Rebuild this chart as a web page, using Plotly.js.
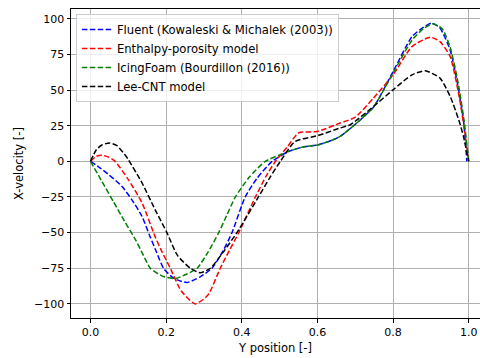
<!DOCTYPE html>
<html>
<head>
<meta charset="utf-8">
<script src="https://cdn.plot.ly/plotly-3.0.1.min.js"></script>
<style>html,body{margin:0;padding:0;background:#fff;}#chart{width:480px;height:358px;}</style>
</head>
<body>
<div id="chart"></div>
<script>
// Fluent (Kowaleski & Michalek (2003))
const fluentX = [0, 0.025, 0.048, 0.083, 0.109, 0.136, 0.157, 0.175, 0.193, 0.22, 0.255, 0.29, 0.321, 0.35, 0.374, 0.409, 0.44, 0.48, 0.524, 0.56, 0.6, 0.64, 0.66, 0.7, 0.748, 0.8, 0.85, 0.88, 0.902, 0.924, 0.951, 0.97, 0.986, 0.995];
const fluentY = [0, -4.5, -9.3, -17.5, -26.8, -38.5, -52.5, -64, -75, -82, -85, -81, -75, -63, -50, -25, -12, 0, 7, 10, 11.5, 15, 17.5, 26, 38, 63, 87.5, 94, 97, 93.5, 78, 55, 29, 0];
// Enthalpy-porosity model
const enthX = [0, 0.015, 0.03, 0.048, 0.065, 0.1, 0.136, 0.171, 0.19, 0.211, 0.24, 0.277, 0.31, 0.343, 0.368, 0.392, 0.436, 0.465, 0.489, 0.52, 0.55, 0.6, 0.66, 0.7, 0.748, 0.8, 0.85, 0.898, 0.924, 0.951, 0.975, 0.99, 1.0];
const enthY = [0, 3.5, 4.3, 3, 0, -12.8, -29, -53, -64, -75, -91, -100, -94, -75, -62, -50, -25, -10, 0, 10, 19.9, 21, 26.9, 31, 44.4, 60.7, 80.5, 87.1, 84, 73.5, 45, 20, 0];
// IcingFoam (Bourdillon (2016))
const icingX = [0, 0.03, 0.061, 0.09, 0.12, 0.14, 0.158, 0.19, 0.224, 0.255, 0.282, 0.31, 0.339, 0.36, 0.383, 0.42, 0.462, 0.502, 0.524, 0.56, 0.6, 0.64, 0.66, 0.7, 0.748, 0.8, 0.85, 0.88, 0.905, 0.93, 0.951, 0.972, 0.988, 1.0];
const icingY = [0, -14, -28.5, -42, -55.5, -66, -75, -80.5, -82.2, -79, -75, -64, -50, -38, -25, -11, 0, 4.7, 7, 10, 11.5, 15, 17.5, 26, 38, 62, 85, 93, 96.5, 93, 80, 55, 28, 0];
// Lee-CNT model
const leeX = [0, 0.015, 0.03, 0.051, 0.07, 0.09, 0.1, 0.136, 0.171, 0.202, 0.23, 0.264, 0.29, 0.317, 0.35, 0.387, 0.444, 0.475, 0.502, 0.541, 0.6, 0.66, 0.687, 0.748, 0.8, 0.85, 0.885, 0.924, 0.951, 0.975, 0.986, 1.0];
const leeY = [0, 8, 11.5, 12.9, 11, 5, 1.2, -15, -34, -50, -66, -75, -78.2, -75, -64, -50, -25, -11, 0, 14, 18, 23.4, 25.7, 38.5, 50.2, 60.7, 63.5, 58.4, 45.5, 28, 17.5, 0];

const names = ["Fluent (Kowaleski & Michalek (2003))", "Enthalpy-porosity model", "IcingFoam (Bourdillon (2016))", "Lee-CNT model"];
const colors = ["#0000ff", "#ff0000", "#008000", "#000000"];
const xs = [fluentX, enthX, icingX, leeX];
const ys = [fluentY, enthY, icingY, leeY];

const traces = xs.map((x, i) => ({
  x: x, y: ys[i], name: names[i], type: "scatter", mode: "lines",
  line: {color: colors[i], width: 1.5, dash: "5.5px,2.4px", shape: "spline", smoothing: 0.6}
}));

const font = {family: "DejaVu Sans, sans-serif", size: 11, color: "#000"};
const layout = {
  width: 480, height: 358,
  margin: {l: 71, r: 0, t: 9, b: 40, pad: 0},
  paper_bgcolor: "#fff", plot_bgcolor: "#fff",
  font: font,
  showlegend: true,
  legend: {x: 0.012, y: 0.984, xanchor: "left", yanchor: "top", bgcolor: "rgba(255,255,255,0.8)", bordercolor: "#cccccc", borderwidth: 1, font: {family: "DejaVu Sans, sans-serif", size: 11.6}, tracegroupgap: 0},
  xaxis: {
    range: [-0.0516, 1.0298], tickvals: [0, 0.2, 0.4, 0.6, 0.8, 1.0], ticktext: ["0.0", "0.2", "0.4", "0.6", "0.8", "1.0"],
    showgrid: true, gridcolor: "#b0b0b0", gridwidth: 1, zeroline: false,
    showline: true, linecolor: "#000", linewidth: 1, mirror: true,
    ticks: "outside", ticklen: 3.5, tickcolor: "#000", tickfont: {size: 11},
    title: {text: "Y position [-]", font: {size: 11.5}, standoff: 6}
  },
  yaxis: {
    range: [-109.9, 106.9], tickvals: [-100, -75, -50, -25, 0, 25, 50, 75, 100],
    showgrid: true, gridcolor: "#b0b0b0", gridwidth: 1, zeroline: false,
    showline: true, linecolor: "#000", linewidth: 1,
    ticks: "outside", ticklen: 3.5, tickcolor: "#000", tickfont: {size: 11},
    title: {text: "X-velocity [-]", font: {size: 11.5}, standoff: 8}
  }
};
Plotly.newPlot("chart", traces, layout, {staticPlot: true, displayModeBar: false});
</script>
</body>
</html>
